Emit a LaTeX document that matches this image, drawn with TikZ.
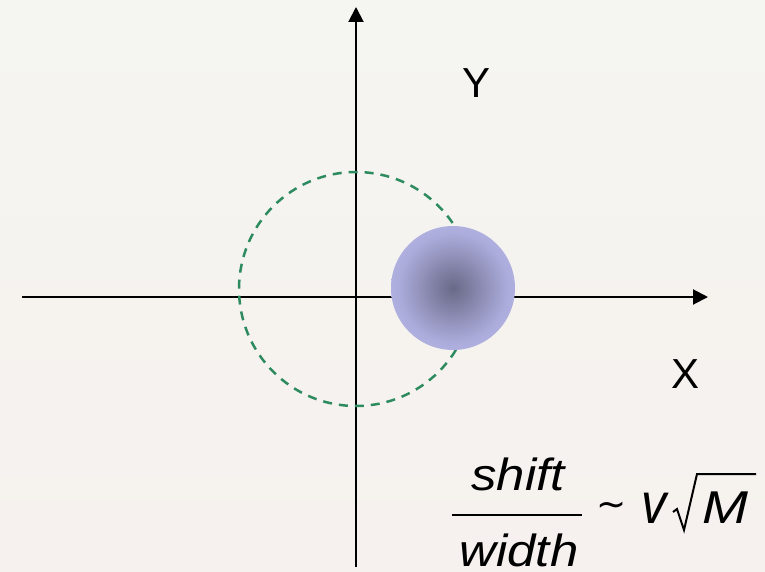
\documentclass[tikz,border=0pt]{standalone}
\usepackage{fontspec}
\setmainfont{Liberation Sans}
\newfontfamily\symfont{DejaVu Sans}
\usetikzlibrary{arrows.meta}
\definecolor{bgtop}{RGB}{245,245,241}
\definecolor{bgbot}{RGB}{246,241,238}
\definecolor{dashgreen}{RGB}{46,139,95}
\definecolor{balldark}{RGB}{105,105,135}
\definecolor{ballmid}{RGB}{172,172,220}
\definecolor{balledge}{RGB}{208,208,252}
\pgfdeclareradialshading{ballshade}{\pgfpoint{0bp}{0bp}}{color(0bp)=(balldark); color(22bp)=(ballmid); color(50bp)=(balledge); color(100bp)=(balledge)}
\begin{document}
\begin{tikzpicture}[x=1pt,y=-1pt,
  axis/.style={line width=2pt, -{Triangle[length=15pt,width=15pt]}},
  lbl/.style={anchor=base, inner sep=0pt, font=\fontsize{42}{50}\selectfont},
  frm/.style={anchor=base, inner sep=0pt, xscale=1.13, font=\fontsize{45}{52}\selectfont\itshape}]
\shade[top color=bgtop, bottom color=bgbot] (0,0) rectangle (765,572);
\useasboundingbox (0,0) rectangle (765,572);
% axes
\coordinate (xs) at (22,297);
\coordinate (xe) at (708,297);
\coordinate (ys) at (356,567);
\coordinate (ye) at (356,7);
\draw[axis] (xs) -- (xe);
\draw[axis] (ys) -- (ye);
% dashed orbit
\coordinate (oc) at (356,289);
\draw[dashgreen, line width=2.5pt, dash pattern=on 9pt off 7pt] (oc) circle[radius=117];
% ball
\coordinate (bc) at (453,288);
\shade[shading=ballshade] (bc) circle[radius=62];
% labels
\node[lbl] (ylab) at (476,98) {Y};
\node[lbl] (xlab) at (685,388) {X};
% formula
\node[frm] (num) at (518,490) {shift};
\node[frm] (den) at (519,566) {width};
\coordinate (bl) at (452,515);
\coordinate (br) at (582,515);
\draw[line width=2pt] (bl) -- (br);
\node[anchor=center, inner sep=0pt, font=\fontsize{36}{40}\symfont] (til) at (612,509) {∼};
\node[anchor=base, inner sep=0pt, xscale=1.1, yscale=1.25, font=\fontsize{46}{52}\selectfont\itshape] (vv) at (654,523) {v};
\coordinate (r1) at (673,512);
\coordinate (r2) at (677,509);
\coordinate (r3) at (684,530);
\coordinate (r4) at (697,474);
\coordinate (r5) at (756,474);
\draw[line width=2pt, line join=miter] (r1) -- (r2) -- (r3) -- (r4) -- (r5);
\node[anchor=base, inner sep=0pt, xscale=1.2, font=\fontsize{46}{52}\selectfont\itshape] (mm) at (725,523) {M};
\end{tikzpicture}
\end{document}
